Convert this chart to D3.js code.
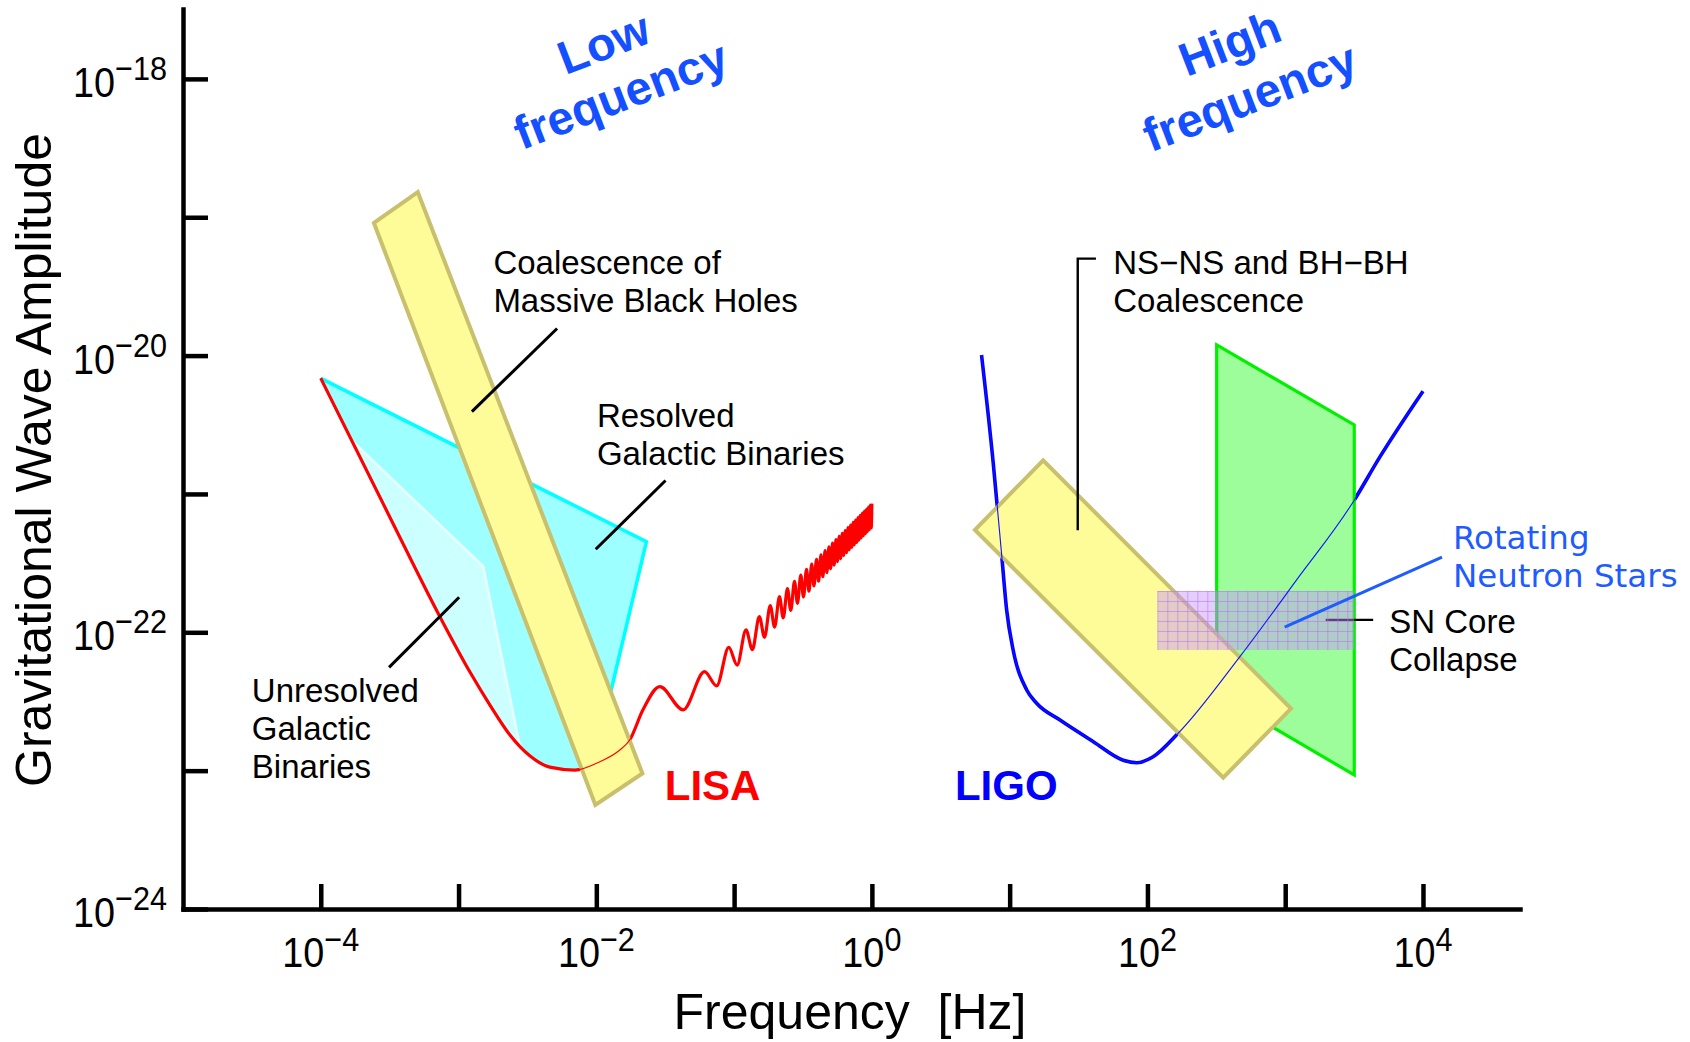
<!DOCTYPE html>
<html>
<head>
<meta charset="utf-8">
<script src="https://cdn.jsdelivr.net/npm/d3@7"></script>
<style>
  html, body { margin: 0; padding: 0; background: #ffffff; }
  svg { display: block; }
  text { font-family: "Liberation Sans", Arial, Helvetica, sans-serif; }
</style>
</head>
<body>
<svg id="chart" width="1690" height="1042"></svg>
<script>
// ---------- axes ----------
const freqDomain = [1e-5, 5.06e4];
const ampDomain = [1e-24, 3.2e-18];
const freqTicks = [1e-4, 1e-3, 1e-2, 1e-1, 1, 10, 100, 1e3, 1e4];
const freqLabelExps = [-4, -2, 0, 2, 4];
const ampTicks = [1e-24, 1e-23, 1e-22, 1e-21, 1e-20, 1e-19, 1e-18];
const ampLabelExps = [-24, -22, -20, -18];

// ---------- detector sensitivity curves [frequency Hz, strain] ----------
const lisaSensitivity = [
  [1.0e-4, 6.85e-21], [3.16e-4, 6.85e-22], [7.31e-4, 1.30e-22], [1.21e-3, 5.16e-23],
  [1.69e-3, 2.98e-23], [2.36e-3, 1.81e-23], [3.29e-3, 1.28e-23], [4.59e-3, 1.06e-23],
  [6.98e-3, 1.01e-23], [1.06e-2, 1.16e-23], [1.48e-2, 1.41e-23], [1.75e-2, 1.67e-23],
  [2.18e-2, 2.75e-23], [2.89e-2, 4.05e-23], [4.27e-2, 2.75e-23],
  [0.061, 5.19e-23], [0.0747, 4.10e-23], [0.0915, 7.78e-23], [0.1052, 5.80e-23],
  [0.122, 1.04e-22], [0.1357, 7.50e-23], [0.1525, 1.30e-22], [0.1662, 9.20e-23],
  [0.183, 1.56e-22], [0.1967, 1.09e-22], [0.2135, 1.81e-22], [0.2272, 1.27e-22],
  [0.244, 2.07e-22], [0.2577, 1.44e-22], [0.2745, 2.33e-22], [0.2882, 1.62e-22],
  [0.305, 2.59e-22], [0.3187, 1.80e-22], [0.3355, 2.85e-22], [0.3492, 1.98e-22],
  [0.366, 3.11e-22], [0.3797, 2.16e-22], [0.3965, 3.37e-22], [0.4102, 2.34e-22],
  [0.427, 3.63e-22], [0.4407, 2.52e-22], [0.4575, 3.89e-22], [0.4712, 2.70e-22],
  [0.488, 4.15e-22], [0.5017, 2.88e-22], [0.5185, 4.41e-22], [0.5322, 3.06e-22],
  [0.549, 4.67e-22], [0.5627, 3.24e-22], [0.5795, 4.93e-22], [0.5932, 3.41e-22],
  [0.61, 5.19e-22], [0.6237, 3.59e-22], [0.6405, 5.44e-22], [0.6542, 3.76e-22],
  [0.671, 5.70e-22], [0.6847, 3.94e-22], [0.7015, 5.96e-22], [0.7152, 4.11e-22],
  [0.732, 6.22e-22], [0.7457, 4.29e-22], [0.7625, 6.48e-22], [0.7762, 4.46e-22],
  [0.793, 6.74e-22], [0.8067, 4.64e-22], [0.8235, 7.00e-22], [0.8372, 4.81e-22],
  [0.854, 7.26e-22], [0.8677, 4.99e-22], [0.8845, 7.52e-22], [0.8982, 5.16e-22],
  [0.915, 7.78e-22], [0.9287, 5.34e-22], [0.9455, 8.04e-22], [0.9592, 5.52e-22],
  [0.976, 8.30e-22], [0.99, 5.69e-22], [1.0, 8.5e-22]
];

const ligoSensitivity = [
  [6.25, 1.01e-20], [7.60, 1.67e-21], [8.73, 3.72e-22], [9.51, 1.45e-22],
  [10.6, 7.45e-23], [13.3, 3.83e-23], [15.7, 3.07e-23], [23.2, 2.32e-23],
  [40.5, 1.62e-23], [66.7, 1.19e-23], [83.6, 1.14e-23], [110, 1.26e-23],
  [167, 1.86e-23], [469, 6.67e-23], [1210, 2.39e-22], [3120, 8.79e-22],
  [4880, 1.86e-21], [10000, 5.53e-21]
];

// ---------- source regions [frequency Hz, strain] ----------
// outer corners of the resolved binaries region; lower edge follows the LISA curve
const resolvedBinariesEdge = [[1.0e-4, 6.85e-21], [0.0231, 4.52e-22], [0.0096, 1.14e-23]];
// inner (unresolved) region boundary; lower edge follows the LISA curve
const unresolvedBinariesEdge = [[1.67e-4, 2.45e-21], [1.51e-3, 2.99e-22], [2.79e-3, 1.50e-23]];
const massiveBHBand = [[2.43e-4, 9.10e-20], [5.06e-4, 1.52e-19], [0.0216, 9.55e-24], [9.84e-3, 5.65e-24]];
const compactBinaryBand = [[5.60, 5.50e-22], [17.5, 1.75e-21], [1102, 2.81e-23], [355, 8.89e-24]];
const coreCollapseRegion = [[318, 1.194e-20], [3170, 3.155e-21], [3170, 9.31e-24], [318, 3.556e-23]];
const rotatingNSBox = { f: [118, 3170], h: [7.45e-23, 1.99e-22] };

// ---------- labels and leader lines ----------
const leaderMassiveBH = [[5.19e-3, 1.57e-20], [1.25e-3, 3.94e-21]];
const leaderResolved = [[0.0318, 1.25e-21], [9.9e-3, 3.98e-22]];
const leaderUnresolved = [[1.01e-3, 1.79e-22], [3.13e-4, 5.58e-23]];
const leaderCompact = [[42.3, 5.02e-20], [31.2, 5.02e-20], [31.2, 5.47e-22]];
const leaderRotatingNS = [[13740, 3.49e-22], [991, 1.09e-22]];
const leaderCoreCollapse = [[4350, 1.23e-22], [1968, 1.23e-22]];

const sourceLabels = [
  { lines: ["Coalescence of", "Massive Black Holes"], at: [1.79e-3, 3.91e-20] },
  { lines: ["Resolved", "Galactic Binaries"], at: [1.01e-2, 3.06e-21] },
  { lines: ["Unresolved", "Galactic", "Binaries"], at: [3.16e-5, 3.15e-23] },
  { lines: ["NS\u2212NS and BH\u2212BH", "Coalescence"], at: [56.5, 3.91e-20] },
  { lines: ["SN Core", "Collapse"], at: [5690, 9.93e-23] }
];
const rotatingLabel = { lines: ["Rotating", "Neutron Stars"], at: [16480, 4.03e-22] };
const detectorLabels = [
  { text: "LISA", at: [0.0314, 6.17e-24], color: "#ff0000" },
  { text: "LIGO", at: [4.01, 6.17e-24], color: "#0000ff" }
];
const bandTitles = [
  { text: "Low", at: [0.01128, 1.82e-18] },
  { text: "frequency", at: [0.0150, 7.69e-19] },
  { text: "High", at: [395, 1.82e-18] },
  { text: "frequency", at: [552, 7.41e-19] }
];

// ---------- drawing ----------
const svg = d3.select("#chart");
const x = d3.scaleLog().domain(freqDomain).range([183, 1520]);
const y = d3.scaleLog().domain(ampDomain).range([909, 9]);
const pt = d => [x(d[0]), y(d[1])];

const linear = d3.line().x(d => x(d[0])).y(d => y(d[1]));
const smooth = d3.line().x(d => x(d[0])).y(d => y(d[1])).curve(d3.curveMonotoneX);
const closed = pts => linear(pts) + "Z";

// galactic binaries (cyan regions bounded below by the LISA curve)
const lisaBetween = (f0, f1) => lisaSensitivity.filter(d => d[0] > f0 && d[0] < f1).reverse();
const resolvedPoly = resolvedBinariesEdge.concat(lisaBetween(1.0e-4, resolvedBinariesEdge[2][0]));
const unresolvedPoly = unresolvedBinariesEdge.concat(lisaBetween(unresolvedBinariesEdge[0][0], unresolvedBinariesEdge[2][0]));

svg.append("path").attr("d", closed(resolvedPoly))
  .attr("fill", "#9dffff").attr("stroke", "none");
svg.append("path").attr("d", linear(resolvedBinariesEdge))
  .attr("fill", "none").attr("stroke", "#00ffff").attr("stroke-width", 3.5).attr("stroke-linejoin", "miter");
svg.append("path").attr("d", closed(unresolvedPoly))
  .attr("fill", "#ccffff").attr("stroke", "none");
svg.append("path").attr("d", linear(unresolvedBinariesEdge))
  .attr("fill", "none").attr("stroke", "#eaffff").attr("stroke-width", 2.5);

// detector curves (full weight)
svg.append("path").attr("d", smooth(lisaSensitivity))
  .attr("fill", "none").attr("stroke", "#ff0000").attr("stroke-width", 3.2).attr("stroke-linejoin", "round");
svg.append("path").attr("d", smooth(ligoSensitivity))
  .attr("fill", "none").attr("stroke", "#0000ff").attr("stroke-width", 3.6).attr("stroke-linejoin", "round");

// supernova core collapse
svg.append("path").attr("d", closed(coreCollapseRegion))
  .attr("fill", "#9dfd9a").attr("stroke", "#00f000").attr("stroke-width", 3.2);

// coalescence bands
[massiveBHBand, compactBinaryBand].forEach(b => {
  svg.append("path").attr("d", closed(b))
    .attr("fill", "#fdfc98").attr("stroke", "#c9c06e").attr("stroke-width", 4).attr("stroke-linejoin", "miter");
});

// leader under the rotating neutron star box
svg.append("path").attr("d", linear(leaderCoreCollapse))
  .attr("fill", "none").attr("stroke", "#000").attr("stroke-width", 2.4);

// rotating neutron stars: translucent gridded box
const boxX0 = x(rotatingNSBox.f[0]), boxX1 = x(rotatingNSBox.f[1]);
const boxY0 = y(rotatingNSBox.h[1]), boxY1 = y(rotatingNSBox.h[0]);
const defs = svg.append("defs");
const pat = defs.append("pattern").attr("id", "nsGrid")
  .attr("patternUnits", "userSpaceOnUse").attr("width", 10).attr("height", 10)
  .attr("x", boxX0).attr("y", boxY0);
pat.append("rect").attr("width", 10).attr("height", 10).attr("fill", "#c890ff").attr("fill-opacity", 0.45);
pat.append("path").attr("d", "M0,0.5H10M0.5,0V10")
  .attr("stroke", "#b070f0").attr("stroke-opacity", 0.55).attr("stroke-width", 1);
svg.append("rect").attr("x", boxX0).attr("y", boxY0)
  .attr("width", boxX1 - boxX0).attr("height", boxY1 - boxY0)
  .attr("fill", "url(#nsGrid)");

// detector curves (thin trace showing through the regions)
svg.append("path").attr("d", smooth(lisaSensitivity))
  .attr("fill", "none").attr("stroke", "#ff0000").attr("stroke-width", 1.1);
svg.append("path").attr("d", smooth(ligoSensitivity))
  .attr("fill", "none").attr("stroke", "#1010ff").attr("stroke-width", 1.1);

// leader lines
[leaderMassiveBH, leaderResolved, leaderUnresolved].forEach(l => {
  svg.append("path").attr("d", linear(l)).attr("fill", "none").attr("stroke", "#000").attr("stroke-width", 3);
});
svg.append("path").attr("d", linear(leaderCompact)).attr("fill", "none")
  .attr("stroke", "#000").attr("stroke-width", 2.4);
svg.append("path").attr("d", linear(leaderRotatingNS)).attr("fill", "none")
  .attr("stroke", "#1f5cff").attr("stroke-width", 3);

// source labels
sourceLabels.forEach(s => {
  const [lx, ly] = pt(s.at);
  const t = svg.append("text").attr("x", lx).attr("y", ly).attr("font-size", 33).attr("fill", "#000");
  s.lines.forEach((line, i) => {
    t.append("tspan").attr("x", lx).attr("dy", i === 0 ? 0 : 38).text(line);
  });
});
{
  const [lx, ly] = pt(rotatingLabel.at);
  const t = svg.append("text").attr("x", lx).attr("y", ly).attr("font-size", 32.5)
    .attr("fill", "#1f5cff").style("font-family", "'DejaVu Sans', Verdana, sans-serif");
  rotatingLabel.lines.forEach((line, i) => {
    t.append("tspan").attr("x", lx).attr("dy", i === 0 ? 0 : 38).text(line);
  });
}
detectorLabels.forEach(d => {
  const [lx, ly] = pt(d.at);
  svg.append("text").attr("x", lx).attr("y", ly).attr("font-size", 42)
    .attr("font-weight", "bold").attr("fill", d.color).text(d.text);
});
bandTitles.forEach(b => {
  const [lx, ly] = pt(b.at);
  svg.append("text").attr("transform", `translate(${lx},${ly}) rotate(-21)`)
    .attr("text-anchor", "middle").attr("dominant-baseline", "central")
    .attr("font-size", 47).attr("font-weight", "bold").attr("fill", "#1450ff").text(b.text);
});

// axes
const y0 = y.range()[0];
const xAxis = d3.axisBottom(x).tickValues(freqTicks).tickSizeInner(-25).tickSizeOuter(0).tickFormat("");
const yAxis = d3.axisLeft(y).tickValues(ampTicks).tickSizeInner(-25).tickSizeOuter(0).tickFormat("");
const gx = svg.append("g").attr("transform", `translate(0,${y0})`).call(xAxis);
const gy = svg.append("g").attr("transform", `translate(${x.range()[0]},0)`).call(yAxis);
[gx, gy].forEach(g => {
  g.select(".domain").attr("stroke", "#000").attr("stroke-width", 4.5).attr("stroke-linecap", "square");
  g.selectAll(".tick line").attr("stroke", "#000").attr("stroke-width", 4.5);
});

const supText = e => (e < 0 ? "\u2212" + (-e) : String(e));
freqLabelExps.forEach(e => {
  const t = svg.append("text")
    .attr("transform", `translate(${x(Math.pow(10, e))},${y0 + 58}) scale(0.9,1)`)
    .attr("text-anchor", "middle").attr("font-size", 42).attr("fill", "#000");
  t.append("tspan").text("10");
  t.append("tspan").attr("font-size", 34).attr("dy", -16).text(supText(e));
});
ampLabelExps.forEach(e => {
  const t = svg.append("text")
    .attr("transform", `translate(${x.range()[0] - 16},${y(Math.pow(10, e)) + 18}) scale(0.9,1)`)
    .attr("text-anchor", "end").attr("font-size", 42).attr("fill", "#000");
  t.append("tspan").text("10");
  t.append("tspan").attr("font-size", 34).attr("dy", -17).text(supText(e));
});

// axis titles
svg.append("text").attr("transform", `translate(51,${(y.range()[0] + y.range()[1]) / 2 + 1}) rotate(-90)`)
  .attr("text-anchor", "middle").attr("font-size", 50).attr("fill", "#000")
  .text("Gravitational Wave Amplitude");
svg.append("text").attr("x", 850).attr("y", 1029)
  .attr("text-anchor", "middle").attr("font-size", 50).attr("fill", "#000")
  .style("white-space", "pre").text("Frequency  [Hz]");
</script>
</body>
</html>
